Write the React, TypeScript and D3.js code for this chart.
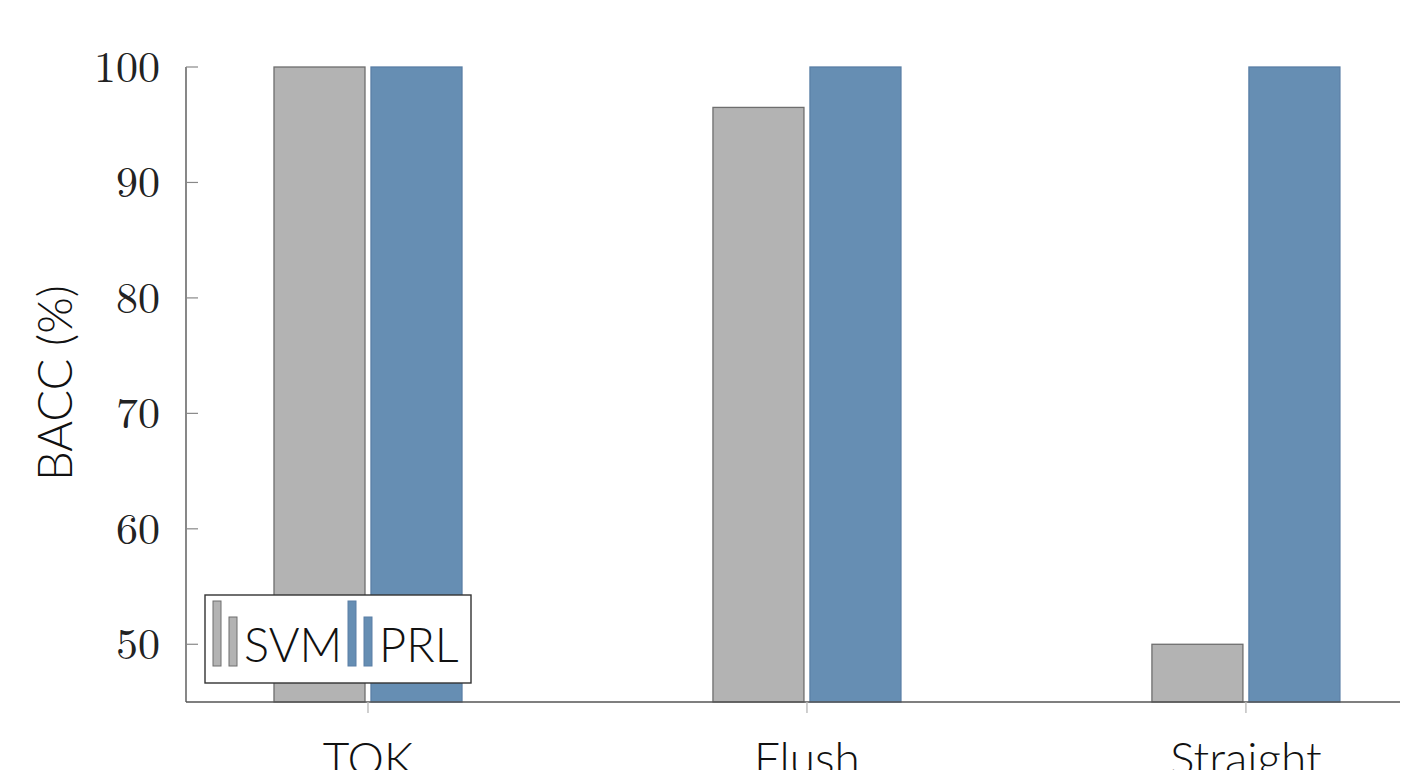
import React from "react";
import * as d3 from "d3";

const categories = ["TOK", "Flush", "Straight"];
const svmValues = [100, 96.5, 50];
const prlValues = [100, 100, 100];
const yTicks = [50, 60, 70, 80, 90, 100];
const seriesNames = ["SVM", "PRL"];

const W = 1401;
const H = 770;
const GRAY = "#b3b3b3";
const GRAY_EDGE = "#6e6e6e";
const BLUE = "#668eb3";
const BLUE_EDGE = "#5a7fa6";
const SANS = "Lato, 'Open Sans', sans-serif";
const SERIF = "'Latin Modern Roman', 'Liberation Serif', 'DejaVu Serif', serif";

export default function App() {
  const axisX = 186;
  const x = d3.scaleLinear().domain([-0.4146, 2.351]).range([axisX, 1400]);
  const y = d3.scaleLinear().domain([45, 100]).range([702, 67]);
  const barW = 91;
  const gap = 6;
  const base = y(45);

  const bar = (cx: number, v: number, fill: string, edge: string, key: string) => (
    <rect
      key={key}
      x={cx}
      y={y(v)}
      width={barW}
      height={base - y(v)}
      fill={fill}
      stroke={edge}
      strokeWidth={1.3}
    />
  );

  const lx = 205;
  const ly = 595;

  return (
    <div style={{ position: "fixed", left: 0, top: 0 }}>
      <svg width={W} height={H} style={{ display: "block", background: "#fff" }}>
        {/* bars */}
        {categories.map((c, i) => {
          const cx = x(i);
          return (
            <g key={c}>
              {bar(cx - gap / 2 - barW, svmValues[i], GRAY, GRAY_EDGE, "s")}
              {bar(cx + gap / 2, prlValues[i], BLUE, BLUE_EDGE, "p")}
            </g>
          );
        })}

        {/* y axis */}
        <line x1={axisX} x2={axisX} y1={y(100)} y2={base} stroke="#555" strokeWidth={1.4} />
        {yTicks.map((t) => (
          <g key={t}>
            <line x1={axisX} x2={axisX + 12} y1={y(t)} y2={y(t)} stroke="#888" strokeWidth={1.2} />
            <text
              x={160}
              y={y(t) + 15}
              textAnchor="end"
              fontFamily={SERIF}
              fontSize={44}
              fill="#222"
            >
              {t}
            </text>
          </g>
        ))}

        {/* x axis */}
        <line x1={axisX} x2={1400} y1={base} y2={base} stroke="#555" strokeWidth={1.4} />
        {categories.map((c, i) => (
          <g key={c}>
            <line x1={x(i)} x2={x(i)} y1={base} y2={base + 11} stroke="#bbb" strokeWidth={1.4} />
            <text
              x={x(i)}
              y={775}
              textAnchor="middle"
              fontFamily={SANS}
              fontWeight={300}
              fontSize={46}
              fill="#111"
            >
              {c}
            </text>
          </g>
        ))}

        {/* y label */}
        <text
          transform={`translate(72, 383) rotate(-90)`}
          textAnchor="middle"
          fontFamily={SANS}
          fontWeight={300}
          fontSize={47}
          fill="#111"
        >
          BACC (%)
        </text>

        {/* legend */}
        <g>
          <rect x={lx} y={ly} width={266} height={88} fill="#fff" stroke="#333" strokeWidth={1.4} />
          {[
            { ox: 8, fill: GRAY, edge: GRAY_EDGE, tx: 39 },
            { ox: 143, fill: BLUE, edge: BLUE_EDGE, tx: 174 },
          ].map((s, k) => (
            <g key={k}>
              <rect x={lx + s.ox} y={601} width={8} height={65} fill={s.fill} stroke={s.edge} strokeWidth={1} />
              <rect x={lx + s.ox + 16} y={617} width={8} height={49} fill={s.fill} stroke={s.edge} strokeWidth={1} />
              <text
                x={lx + s.tx}
                y={662}
                fontFamily={SANS}
                fontWeight={300}
                fontSize={47}
                fill="#111"
              >
                {seriesNames[k]}
              </text>
            </g>
          ))}
        </g>
      </svg>
    </div>
  );
}
